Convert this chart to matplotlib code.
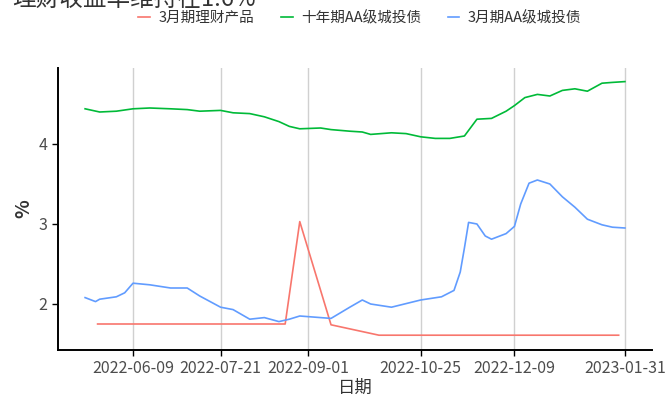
import matplotlib
matplotlib.use("Agg")
import matplotlib.pyplot as plt
import matplotlib.dates as mdates
import pandas as pd

plt.rcParams['font.family'] = ['Noto Sans CJK SC', 'DejaVu Sans']

# 3月期理财产品
wm_dates = ['2022-05-23', '2022-06-09', '2022-07-21', '2022-08-21', '2022-08-28',
            '2022-09-12', '2022-10-05', '2022-10-25', '2022-12-09', '2023-01-28']
wm_vals = [1.75, 1.75, 1.75, 1.75, 3.03, 1.74, 1.61, 1.61, 1.61, 1.61]

# 十年期AA级城投债
aa10_dates = ['2022-05-17', '2022-05-24', '2022-06-01', '2022-06-09', '2022-06-17',
              '2022-06-27', '2022-07-05', '2022-07-11', '2022-07-21', '2022-07-27',
              '2022-08-04', '2022-08-11', '2022-08-18', '2022-08-23', '2022-08-28',
              '2022-09-07', '2022-09-12', '2022-09-21', '2022-09-27', '2022-10-01',
              '2022-10-11', '2022-10-18', '2022-10-25', '2022-11-01', '2022-11-08',
              '2022-11-15', '2022-11-21', '2022-11-28', '2022-12-05', '2022-12-09',
              '2022-12-14', '2022-12-20', '2022-12-26', '2023-01-01', '2023-01-07',
              '2023-01-13', '2023-01-20', '2023-01-25', '2023-01-31']
aa10_vals = [4.44, 4.40, 4.41, 4.44, 4.45, 4.44, 4.43, 4.41, 4.42, 4.39,
             4.38, 4.34, 4.28, 4.22, 4.19, 4.20, 4.18, 4.16, 4.15, 4.12,
             4.14, 4.13, 4.09, 4.07, 4.07, 4.10, 4.31, 4.32, 4.41, 4.48,
             4.58, 4.62, 4.60, 4.67, 4.69, 4.66, 4.76, 4.77, 4.78]

# 3月期AA级城投债
aa3_dates = ['2022-05-17', '2022-05-22', '2022-05-24', '2022-06-01', '2022-06-05',
             '2022-06-09', '2022-06-17', '2022-06-27', '2022-07-05', '2022-07-11',
             '2022-07-21', '2022-07-27', '2022-08-04', '2022-08-11', '2022-08-18',
             '2022-08-23', '2022-08-28', '2022-09-07', '2022-09-12', '2022-09-21',
             '2022-09-27', '2022-10-01', '2022-10-11', '2022-10-25', '2022-11-04',
             '2022-11-10', '2022-11-13', '2022-11-15', '2022-11-17', '2022-11-21',
             '2022-11-25', '2022-11-28', '2022-12-05', '2022-12-09', '2022-12-12',
             '2022-12-16', '2022-12-20', '2022-12-26', '2023-01-01', '2023-01-07',
             '2023-01-13', '2023-01-20', '2023-01-25', '2023-01-31']
aa3_vals = [2.08, 2.03, 2.06, 2.09, 2.14, 2.26, 2.24, 2.20, 2.20, 2.10,
            1.96, 1.93, 1.81, 1.83, 1.78, 1.81, 1.85, 1.83, 1.82, 1.96,
            2.05, 2.00, 1.96, 2.05, 2.09, 2.17, 2.40, 2.70, 3.02, 3.00,
            2.85, 2.81, 2.88, 2.97, 3.25, 3.51, 3.55, 3.50, 3.34, 3.21,
            3.06, 2.99, 2.96, 2.95]

xticks = ['2022-06-09', '2022-07-21', '2022-09-01', '2022-10-25', '2022-12-09', '2023-01-31']

fig = plt.figure(figsize=(6.68, 4.03), dpi=100)
ax = fig.add_axes([58 / 668, 53 / 403, 594 / 668, 282 / 403])

ax.plot(pd.to_datetime(wm_dates), wm_vals, color='#F8766D', lw=1.2, label='3月期理财产品')
ax.plot(pd.to_datetime(aa10_dates), aa10_vals, color='#00BA38', lw=1.2, label='十年期AA级城投债')
ax.plot(pd.to_datetime(aa3_dates), aa3_vals, color='#619CFF', lw=1.2, label='3月期AA级城投债')

ax.set_xlim(pd.Timestamp('2022-05-04'), pd.Timestamp('2023-02-13'))
ax.set_ylim(1.425, 4.95)
ax.set_xticks(pd.to_datetime(xticks))
ax.xaxis.set_major_formatter(mdates.DateFormatter('%Y-%m-%d'))
ax.set_yticks([2, 3, 4])
ax.set_yticklabels(['2', '3', '4'])
ax.grid(axis='x', color='#d0d0d0', lw=1)
ax.set_axisbelow(True)
for s in ['top', 'right']:
    ax.spines[s].set_visible(False)
for s in ['left', 'bottom']:
    ax.spines[s].set_linewidth(1.4)
ax.tick_params(axis='both', colors='black', length=4, width=1, labelsize=11.5, labelcolor='#4d4d4d')
ax.set_xlabel('日期', fontsize=12.5, color='#333333', labelpad=1)
ax.set_ylabel('%', fontsize=14, color='#333333', fontweight='bold')

fig.legend(loc='center', bbox_to_anchor=(360 / 668, 1 - 18 / 403), ncol=3, frameon=False,
           fontsize=10.5, handlelength=0.8, columnspacing=1.8, handletextpad=0.6,
           labelcolor='#333333')
fig.text(12 / 668, 1 - 6 / 403, '理财收益率维持在1.6%', fontsize=17, color='#333333',
         va='baseline', ha='left')

fig.savefig('out.png', dpi=100)
